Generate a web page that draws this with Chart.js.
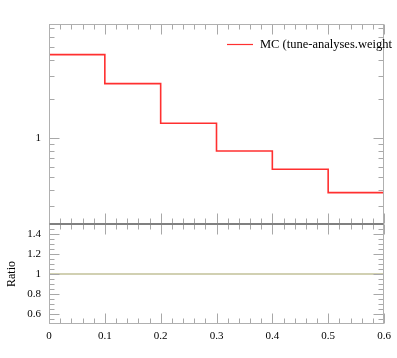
<!DOCTYPE html>
<html>
<head>
<meta charset="utf-8">
<script src="https://cdn.jsdelivr.net/npm/chart.js@4"></script>
<style>
  html, body { margin: 0; padding: 0; background: #fff; }
  #wrap { position: relative; width: 397px; height: 358px; }
  canvas { position: absolute; left: 0; top: 0; }
</style>
</head>
<body>
<div id="wrap">
  <canvas id="main" width="397" height="358"></canvas>
  <canvas id="ratio" width="397" height="358"></canvas>
</div>
<script>
// bin edges and contents
const binEdges = [0, 0.1, 0.2, 0.3, 0.4, 0.5, 0.6];
const mcValues = [4.37, 2.62, 1.30, 0.797, 0.578, 0.383];
const ratioValues = [1, 1, 1, 1, 1, 1];
const seriesLabel = 'MC (tune-analyses.weight';

const xTicks = [0, 0.1, 0.2, 0.3, 0.4, 0.5, 0.6];
const xTickLabels = ['0', '0.1', '0.2', '0.3', '0.4', '0.5', '0.6'];
const xMinor = [];
for (let i = 1; i < 30; i++) if (i % 5) xMinor.push(i * 0.02);

const mainYMajor = [1];
const mainYMinor = [0.3, 0.4, 0.5, 0.6, 0.7, 0.8, 0.9, 2, 3, 4, 5, 6, 7];
const ratioTicks = [0.6, 0.8, 1, 1.2, 1.4];
const ratioTickLabels = ['0.6', '0.8', '1', '1.2', '1.4'];
const ratioMinor = [0.55, 0.65, 0.7, 0.75, 0.85, 0.9, 0.95, 1.05, 1.1, 1.15, 1.25, 1.3, 1.35, 1.45];

const FONT = "'Liberation Serif', 'DejaVu Serif', serif";

// step points: one at each bin's left edge, plus the closing edge
const stepPoints = (vals) => {
  const pts = vals.map((v, i) => ({ x: binEdges[i], y: v }));
  pts.push({ x: binEdges[binEdges.length - 1], y: vals[vals.length - 1] });
  return pts;
};

// frame + inward tick marks (rivet style)
const frameTicks = {
  id: 'frameTicks',
  afterDraw(chart, args, opts) {
    const { ctx, chartArea: a, scales } = chart;
    const xs = scales.x, ys = scales.y;
    ctx.save();
    ctx.lineWidth = 1;
    ctx.strokeStyle = '#a8a8a8';
    const tick = (x1, y1, x2, y2) => {
      ctx.beginPath(); ctx.moveTo(x1, y1); ctx.lineTo(x2, y2); ctx.stroke();
    };
    const L = a.left + 0.5, R = a.right - 0.5;
    const T = a.top + 0.5, B = a.bottom - 0.5;
    const xt = (vals, len) => vals.forEach(v => {
      const px = Math.round(xs.getPixelForValue(v)) + 0.5;
      tick(px, T, px, T + len);
      tick(px, B, px, B - len);
    });
    const yt = (vals, len) => vals.forEach(v => {
      const py = Math.round(ys.getPixelForValue(v)) + 0.5;
      tick(L, py, L + len, py);
      tick(R, py, R - len, py);
    });
    xt(xTicks, 10); xt(xMinor, 5);
    yt(opts.major, 10); yt(opts.minor, 5);
    ctx.strokeStyle = '#b0b0b0';
    ctx.strokeRect(L, T, R - L, B - T);
    ctx.strokeStyle = '#808080';
    const sep = opts.sepTop ? T : B;
    tick(L, sep, R, sep);
    ctx.restore();
  }
};

const legendLine = {
  id: 'legendLine',
  afterDraw(chart) {
    const { ctx, chartArea: a } = chart;
    const ds = chart.data.datasets[0];
    const y = a.top + 20.5;
    ctx.save();
    ctx.strokeStyle = ds.borderColor;
    ctx.lineWidth = 1.2;
    ctx.beginPath();
    ctx.moveTo(a.left + 178, y);
    ctx.lineTo(a.left + 204, y);
    ctx.stroke();
    ctx.fillStyle = '#000';
    ctx.font = '12.5px ' + FONT;
    ctx.textBaseline = 'middle';
    ctx.fillText(ds.label, a.left + 211, y);
    ctx.restore();
  }
};

new Chart(document.getElementById('main'), {
  type: 'line',
  data: {
    datasets: [{
      label: seriesLabel,
      data: stepPoints(mcValues),
      stepped: 'before',
      borderColor: '#ff3030',
      borderWidth: 1.6,
      pointRadius: 0,
      fill: false
    }]
  },
  options: {
    responsive: false,
    animation: false,
    devicePixelRatio: 1,
    layout: { padding: { top: 24, right: 13, bottom: 134, left: 0 } },
    plugins: {
      legend: { display: false },
      tooltip: { enabled: false },
      frameTicks: { major: mainYMajor, minor: mainYMinor, sepTop: false }
    },
    scales: {
      x: { type: 'linear', min: 0, max: 0.6, display: false },
      y: {
        type: 'logarithmic',
        min: 0.22,
        max: 7.5,
        afterFit: s => { s.width = 49; },
        grid: { display: false },
        border: { display: false },
        ticks: {
          autoSkip: false,
          padding: 0,
          color: '#000',
          font: { family: FONT, size: 11 },
          callback: v => (Math.abs(v - 1) < 1e-9 ? '1' : '')
        }
      }
    }
  },
  plugins: [frameTicks, legendLine]
});

new Chart(document.getElementById('ratio'), {
  type: 'line',
  data: {
    datasets: [{
      label: 'ratio',
      data: stepPoints(ratioValues),
      stepped: 'before',
      borderColor: '#a4a266',
      borderWidth: 1.2,
      pointRadius: 0,
      fill: false
    }]
  },
  options: {
    responsive: false,
    animation: false,
    devicePixelRatio: 1,
    layout: { padding: { top: 224, right: 13, bottom: 0, left: 0 } },
    plugins: {
      legend: { display: false },
      tooltip: { enabled: false },
      frameTicks: { major: ratioTicks, minor: ratioMinor, sepTop: true }
    },
    scales: {
      x: {
        type: 'linear',
        min: 0,
        max: 0.6,
        afterBuildTicks: s => { s.ticks = xTicks.map(v => ({ value: v })); },
        afterFit: s => { s.height = 34; },
        grid: { display: false },
        border: { display: false },
        ticks: {
          autoSkip: false,
          maxRotation: 0,
          padding: -2,
          color: '#000',
          font: { family: FONT, size: 11 },
          callback: (v, i) => xTickLabels[i]
        }
      },
      y: {
        type: 'linear',
        min: 0.5,
        max: 1.5,
        afterBuildTicks: s => { s.ticks = ratioTicks.map(v => ({ value: v })); },
        afterFit: s => { s.width = 49; },
        grid: { display: false },
        border: { display: false },
        title: {
          display: true,
          text: 'Ratio',
          color: '#000',
          font: { family: FONT, size: 12 },
          padding: { top: 5, bottom: 0 }
        },
        ticks: {
          autoSkip: false,
          padding: 0,
          color: '#000',
          font: { family: FONT, size: 11 },
          callback: (v, i) => ratioTickLabels[i]
        }
      }
    }
  },
  plugins: [frameTicks]
});
</script>
</body>
</html>
